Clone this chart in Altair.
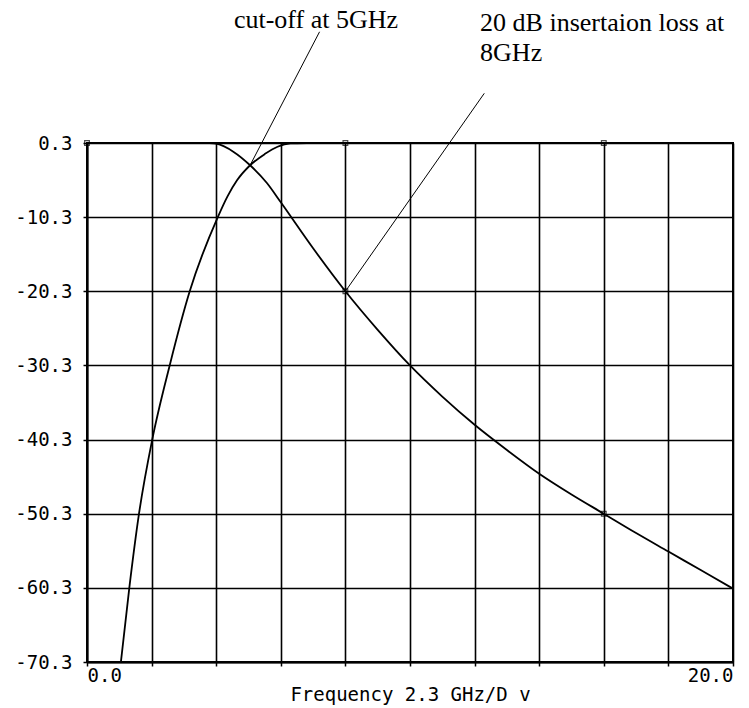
import altair as alt
import pandas as pd

# ---- data ----
low_f = [3.8, 4.0, 4.54, 5.05, 5.57, 6.0, 7.0, 8.0, 9.0, 10.0, 11.0, 12.0, 13.0, 14.0, 15.0, 16.0, 17.0, 18.0, 19.0, 20.0]
low_db = [0.0, -0.1, -1.2, -3.0, -5.4, -8.0, -14.2, -20.0, -25.2, -30.0, -34.2, -38.0, -41.4, -44.6, -47.4, -50.0, -52.6, -55.1, -57.6, -60.1]

high_f = [1.05, 1.31, 1.61, 2.02, 2.56, 3.18, 4.05, 4.35, 4.65, 5.05, 5.5, 5.9, 6.3, 6.8]
high_db = [-70.0, -60.0, -50.0, -40.0, -30.0, -20.0, -10.0, -7.2, -5.0, -3.0, -1.5, -0.5, -0.05, 0.0]

marker_f = [0, 8, 16, 8, 16]
marker_db = [0, 0, 0, -20, -50]

x_ticks = [0, 2, 4, 6, 8, 10, 12, 14, 16, 18, 20]
x_tick_labels = {0: "0.0", 20: "20.0"}
y_ticks = [0, -10, -20, -30, -40, -50, -60, -70]
y_tick_labels = ["0.3", "-10.3", "-20.3", "-30.3", "-40.3", "-50.3", "-60.3", "-70.3"]
x_title = "Frequency 2.3 GHz/D v"

# annotations (data units)
ann1_text = ["cut-off at 5GHz"]
ann1_f = [7.09]
ann1_db = [15.5]
ann2_text = ["20 dB insertaion loss at", "8GHz"]
ann2_f = [12.17, 12.17]
ann2_db = [15.1, 11.1]
lead_f = [5.05, 8.0]
lead_db = [-3.0, -20.0]
lead_f2 = [7.2, 12.3]
lead_db2 = [15.0, 6.7]

# ---- tables ----
low = pd.DataFrame({"f": low_f, "db": low_db})
high = pd.DataFrame({"f": high_f, "db": high_db})
marks = pd.DataFrame({"f": marker_f, "db": marker_db})
a1 = pd.DataFrame({"f": ann1_f, "db": ann1_db, "t": ann1_text})
a2 = pd.DataFrame({"f": ann2_f, "db": ann2_db, "t": ann2_text})
leads = pd.DataFrame({"f": lead_f, "db": lead_db, "f2": lead_f2, "db2": lead_db2})


def label_expr(pairs):
    s = "''"
    for v, lab in reversed(pairs):
        s = f"datum.value == {v} ? '{lab}' : ({s})"
    return s


xexpr = label_expr(list(x_tick_labels.items()))
yexpr = label_expr(list(zip(y_ticks, y_tick_labels)))

MONO = "DejaVu Sans Mono"
SERIF = "Liberation Serif"

xscale = alt.Scale(domain=[0, 20], nice=False, zero=False)
yscale = alt.Scale(domain=[-70, 0], nice=False, zero=False)

xaxis = alt.Axis(values=x_ticks, labelExpr=xexpr, title=x_title, grid=True,
                 gridColor="black", gridWidth=1.6, gridOpacity=1,
                 domainColor="black", domainWidth=2, tickColor="black", tickWidth=1.5, tickSize=4,
                 labelFont=MONO, labelFontSize=19, labelColor="black", labelFlush=True,
                 labelOverlap=False, labelPadding=0,
                 titleFont=MONO, titleFontSize=19, titleFontWeight="normal", titleColor="black",
                 titlePadding=0)
yaxis = alt.Axis(values=y_ticks, labelExpr=yexpr, title=None, grid=True,
                 gridColor="black", gridWidth=1.6, gridOpacity=1,
                 domainColor="black", domainWidth=2, tickColor="black", tickWidth=1.5, tickSize=4,
                 labelFont=MONO, labelFontSize=19, labelColor="black", labelOverlap=False,
                 labelPadding=11)

base_x = alt.X("f:Q", scale=xscale, axis=xaxis)
base_y = alt.Y("db:Q", scale=yscale, axis=yaxis)

low_line = alt.Chart(low).mark_line(color="black", strokeWidth=1.8, interpolate="monotone").encode(x=base_x, y=base_y)
high_line = alt.Chart(high).mark_line(color="black", strokeWidth=1.8, interpolate="monotone").encode(
    x=alt.X("f:Q", scale=xscale), y=alt.Y("db:Q", scale=yscale))
pts = alt.Chart(marks).mark_point(shape="square", size=22, filled=False, color="black", strokeWidth=1.2).encode(
    x=alt.X("f:Q", scale=xscale), y=alt.Y("db:Q", scale=yscale))
leader = alt.Chart(leads).mark_rule(color="black", strokeWidth=1).encode(
    x=alt.X("f:Q", scale=xscale), y=alt.Y("db:Q", scale=yscale), x2="f2:Q", y2="db2:Q")
t1 = alt.Chart(a1).mark_text(font=SERIF, fontSize=26, color="black", align="center", baseline="alphabetic").encode(
    x=alt.X("f:Q", scale=xscale), y=alt.Y("db:Q", scale=yscale), text="t:N")
t2 = alt.Chart(a2).mark_text(font=SERIF, fontSize=26, color="black", align="left", baseline="alphabetic").encode(
    x=alt.X("f:Q", scale=xscale), y=alt.Y("db:Q", scale=yscale), text="t:N")

chart = alt.layer(low_line, high_line, pts, leader, t1, t2).properties(
    width=646, height=519,
    autosize=alt.AutoSizeParams(type="none"),
    padding={"left": 87, "top": 143, "right": 16, "bottom": 46},
    background="white",
).configure_view(stroke="black", strokeWidth=2)

chart.save("out.html", embed_options={"renderer": "svg", "actions": False})
